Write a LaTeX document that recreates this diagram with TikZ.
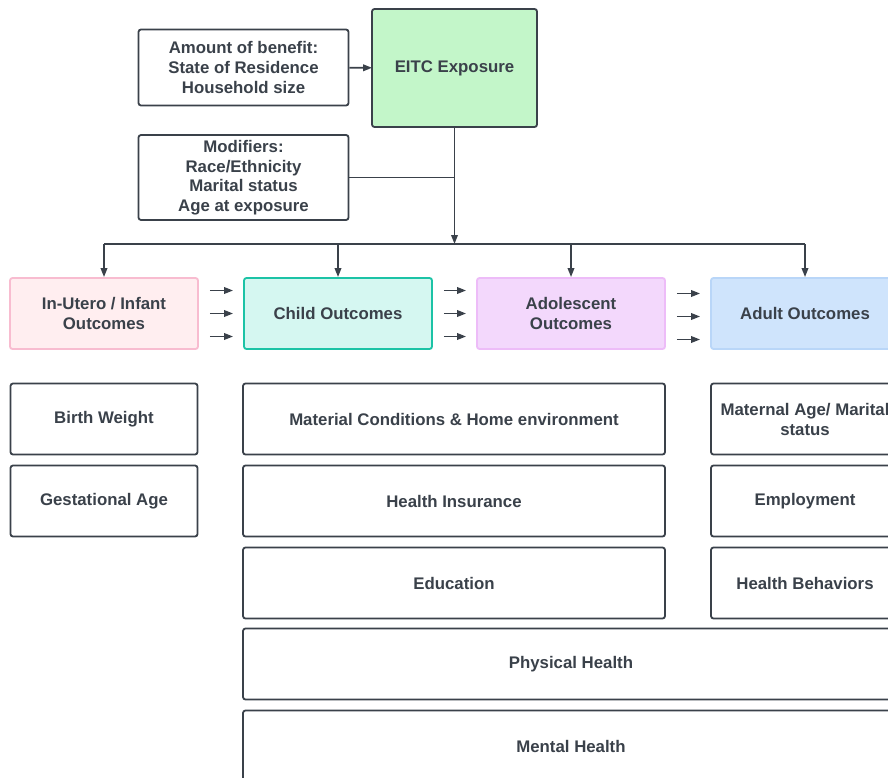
\documentclass[tikz,border=0pt]{standalone}
\usepackage{fontspec}
\setmainfont{Liberation Sans}
\usepackage{xcolor}
\usetikzlibrary{
    arrows.meta,
    positioning,
    calc
}
\definecolor{dark}{HTML}{3A414A}
\definecolor{exposure}{HTML}{C3F6C9}
\definecolor{infantfill}{HTML}{FFEEF0}
\definecolor{infantline}{HTML}{F8BCD0}
\definecolor{childfill}{HTML}{D5F7F1}
\definecolor{childline}{HTML}{1CC3A6}
\definecolor{adolfill}{HTML}{F3D8FC}
\definecolor{adolline}{HTML}{EDBCF8}
\definecolor{adultfill}{HTML}{CFE4FC}
\definecolor{adultline}{HTML}{B9D6F8}
\tikzset{
    % Plain factor box
    factor/.style={
        rectangle,
        rounded corners=2.5pt,
        minimum width=210,
        minimum height=76,
        inner sep=0pt,
        align=center,
        font=\bfseries\fontsize{16.8}{20}\selectfont,
        text=dark,
        draw=dark,
        fill=white,
        line width=1.8pt
    },
    % Stage box
    stage/.style n args={2}{
        rectangle,
        rounded corners=2.5pt,
        minimum width=188,
        minimum height=71,
        inner sep=0pt,
        align=center,
        font=\bfseries\fontsize{16.8}{20}\selectfont,
        text=dark,
        draw=#2,
        fill=#1,
        line width=1.8pt
    },
    % Outcome measure box
    measure/.style={
        rectangle,
        rounded corners=2.5pt,
        minimum height=71,
        inner sep=0pt,
        align=center,
        font=\bfseries\fontsize{16.8}{20}\selectfont,
        text=dark,
        draw=dark,
        fill=white,
        line width=1.8pt
    },
    % Arrow styles
    flow/.style={
        -{Triangle[length=9pt, width=6.5pt]},
        line width=1.8pt,
        color=dark
    },
    link/.style={
        line width=1.8pt,
        color=dark
    }
}
\begin{document}
\begin{tikzpicture}[x=1pt,y=-1pt]
        \path[use as bounding box, clip] (0,0) rectangle (888,778);

        % Exposure
        \node[factor, minimum width=165, minimum height=118, fill=exposure] (eitc) at (454.5, 68) {EITC Exposure};
        \node[factor] (benefit) at (243.5, 67.5) {Amount of benefit:\\State of Residence\\Household size};
        \node[factor, minimum height=85, font=\bfseries\fontsize{16.8}{19.5}\selectfont] (modif) at (243.5, 177.5) {Modifiers:\\Race/Ethnicity\\Marital status\\Age at exposure};

        % Life stages
        \node[stage={infantfill}{infantline}] (infant) at (104, 313.5) {In-Utero / Infant\\Outcomes};
        \node[stage={childfill}{childline}] (child) at (338, 313.5) {Child Outcomes};
        \node[stage={adolfill}{adolline}] (adol) at (571, 313.5) {Adolescent\\Outcomes};
        \node[stage={adultfill}{adultline}] (adult) at (805, 313.5) {Adult Outcomes};

        % Measures
        \node[measure, minimum width=187] (bw) at (104, 419) {Birth Weight};
        \node[measure, minimum width=187] (ga) at (104, 501) {Gestational Age};
        \node[measure, minimum width=422] (home) at (454, 419) {Material Conditions \& Home environment};
        \node[measure, minimum width=422] (ins) at (454, 501) {Health Insurance};
        \node[measure, minimum width=422] (edu) at (454, 583) {Education};
        \node[measure, minimum width=656] (phys) at (571, 664) {Physical Health};
        \node[measure, minimum width=656] (ment) at (571, 746) {Mental Health};
        \node[measure, minimum width=188] (mat) at (805, 419) {Maternal Age/ Marital\\status};
        \node[measure, minimum width=188] (emp) at (805, 501) {Employment};
        \node[measure, minimum width=188] (beh) at (805, 583) {Health Behaviors};

        % Connections
        \coordinate (bus) at (eitc.south |- 0, 244);
        \draw[flow, shorten >=-1pt] (benefit) -- (eitc);
        \draw[link] (modif.east) -- (modif.east -| eitc.south);
        \draw[flow] (eitc.south) -- (bus);
        \draw[link] (infant.north |- bus) -- (adult.north |- bus);
        \foreach \s in {infant, child, adol, adult}
            \draw[flow] (\s.north |- bus) -- (\s.north);

        % Stage transitions
        \foreach \a/\b in {infant/child, child/adol} {
            \foreach \dy in {-23, 0, 23}
                \draw[flow] ([xshift=11pt, yshift=\dy]\a.east) -- ([xshift=-10pt, yshift=\dy]\b.west);
        }
        \foreach \dy in {-26, -3, 20}
            \draw[flow] ([xshift=11pt, yshift=\dy]adol.east) -- ([xshift=-10pt, yshift=\dy]adult.west);

    \end{tikzpicture}
\end{document}
